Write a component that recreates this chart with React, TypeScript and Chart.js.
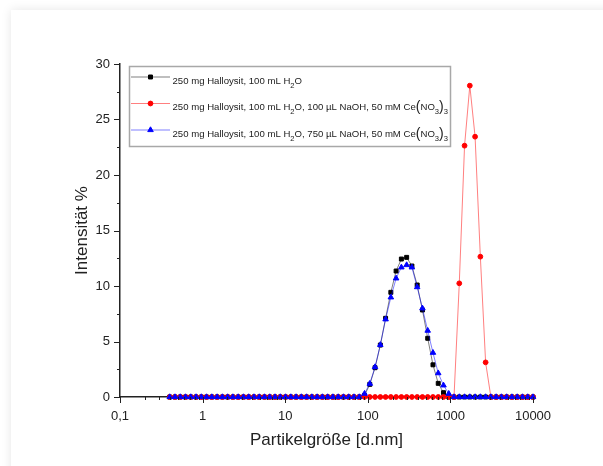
import React, { useEffect, useRef } from 'react';
import { Chart, registerables } from 'chart.js';
import { drawPoint } from 'chart.js/helpers';

Chart.register(...registerables);

// Malvern size classes (d.nm)
const sizeClasses = [
  0.4, 0.4632, 0.5365, 0.6213, 0.7195, 0.8332, 0.9649, 1.117, 1.294, 1.499,
  1.736, 2.01, 2.328, 2.696, 3.122, 3.615, 4.187, 4.849, 5.615, 6.503,
  7.531, 8.721, 10.1, 11.7, 13.54, 15.69, 18.17, 21.04, 24.36, 28.21,
  32.67, 37.84, 43.82, 50.75, 58.77, 68.06, 78.82, 91.28, 105.7, 122.4,
  141.8, 164.2, 190.1, 220.2, 255.0, 295.3, 342.0, 396.1, 458.7, 531.2,
  615.1, 712.4, 825.0, 955.4, 1106, 1281, 1484, 1718, 1990, 2305,
  2669, 3091, 3580, 4145, 4801, 5560, 6439, 7456, 8635, 10000,
];

const intensityH2O = [
  0, 0, 0, 0, 0, 0, 0, 0, 0, 0,
  0, 0, 0, 0, 0, 0, 0, 0, 0, 0,
  0, 0, 0, 0, 0, 0, 0, 0, 0, 0,
  0, 0, 0, 0, 0, 0, 0, 0.15, 1.14, 2.64,
  4.68, 7.09, 9.43, 11.35, 12.43, 12.58, 11.8, 10.09, 7.84, 5.29,
  2.9, 1.23, 0.39, 0, 0, 0, 0, 0, 0, 0,
  0, 0, 0, 0, 0, 0, 0, 0, 0, 0,
];

const intensityNaOH100 = [
  0, 0, 0, 0, 0, 0, 0, 0, 0, 0,
  0, 0, 0, 0, 0, 0, 0, 0, 0, 0,
  0, 0, 0, 0, 0, 0, 0, 0, 0, 0,
  0, 0, 0, 0, 0, 0, 0, 0, 0, 0,
  0, 0, 0, 0, 0, 0, 0, 0, 0, 0,
  0, 0, 0, 0, 0, 10.24, 22.64, 28.05, 23.45, 12.64,
  3.12, 0, 0, 0, 0, 0, 0, 0, 0, 0,
];

const intensityNaOH750 = [
  0, 0, 0, 0, 0, 0, 0, 0, 0, 0,
  0, 0, 0, 0, 0, 0, 0, 0, 0, 0,
  0, 0, 0, 0, 0, 0, 0, 0, 0, 0,
  0, 0, 0, 0, 0, 0, 0, 0.3, 1.2, 2.7,
  4.7, 7.0, 8.98, 10.69, 11.68, 11.89, 11.68, 9.9, 7.99, 5.98,
  3.99, 2.15, 1.05, 0.3, 0, 0, 0, 0, 0, 0,
  0, 0, 0, 0, 0, 0, 0, 0, 0, 0,
];

const xTickValues = [0.1, 1, 10, 100, 1000, 10000];
const xTickLabels = ['0,1', '1', '10', '100', '1000', '10000'];
const yTickValues = [0, 5, 10, 15, 20, 25, 30];

type Seg = { t: string; k?: 'sub' | 'big' };
const legendH2O: Seg[] = [
  { t: '250 mg Halloysit, 100 mL H' }, { t: '2', k: 'sub' }, { t: 'O' },
];
const legendNaOH100: Seg[] = [
  { t: '250 mg Halloysit, 100 mL H' }, { t: '2', k: 'sub' },
  { t: 'O, 100 µL NaOH, 50 mM Ce' }, { t: '(', k: 'big' }, { t: 'NO' },
  { t: '3', k: 'sub' }, { t: ')', k: 'big' }, { t: '3', k: 'sub' },
];
const legendNaOH750: Seg[] = [
  { t: '250 mg Halloysit, 100 mL H' }, { t: '2', k: 'sub' },
  { t: 'O, 750 µL NaOH, 50 mM Ce' }, { t: '(', k: 'big' }, { t: 'NO' },
  { t: '3', k: 'sub' }, { t: ')', k: 'big' }, { t: '3', k: 'sub' },
];

const FONT = '"Liberation Sans", Arial, sans-serif';

function drawRich(ctx: CanvasRenderingContext2D, segs: Seg[], x: number, y: number) {
  ctx.textBaseline = 'alphabetic';
  ctx.textAlign = 'left';
  for (const s of segs) {
    const size = s.k === 'sub' ? 7.6 : s.k === 'big' ? 14 : 9.6;
    const dy = s.k === 'sub' ? 4.3 : s.k === 'big' ? 1 : 0;
    ctx.font = `${size}px ${FONT}`;
    ctx.fillText(s.t, x, y + dy);
    x += ctx.measureText(s.t).width;
  }
}

const extrasPlugin = {
  id: 'extras',
  afterDatasetsDraw(chart: any) {
    const ctx: CanvasRenderingContext2D = chart.ctx;
    const xs = chart.scales.x;
    const ys = chart.scales.y;
    const { left, bottom } = chart.chartArea;
    ctx.save();
    ctx.strokeStyle = '#222';
    ctx.lineWidth = 1;
    // x ticks (log, major + minor)
    for (let d = 0.1; d < 10000; d *= 10) {
      for (let m = 1; m <= 9; m++) {
        const v = d * m;
        const px = Math.round(xs.getPixelForValue(v)) + 0.5;
        const len = m === 1 ? 6 : 3;
        ctx.beginPath();
        ctx.moveTo(px, bottom);
        ctx.lineTo(px, bottom + len);
        ctx.stroke();
      }
    }
    {
      const px = Math.round(xs.getPixelForValue(10000)) + 0.5;
      ctx.beginPath();
      ctx.moveTo(px, bottom);
      ctx.lineTo(px, bottom + 6);
      ctx.stroke();
    }
    // y ticks
    for (let v = 0; v <= 30; v += 2.5) {
      const py = Math.round(ys.getPixelForValue(v)) + 0.5;
      const len = v % 5 === 0 ? 6 : 3;
      ctx.beginPath();
      ctx.moveTo(left, py);
      ctx.lineTo(left - len, py);
      ctx.stroke();
    }
    // legend
    const bx = 129.5, by = 66.5, bw = 321, bh = 80;
    ctx.fillStyle = '#fff';
    ctx.fillRect(bx, by, bw, bh);
    ctx.strokeStyle = '#a8a8a8';
    ctx.lineWidth = 1.5;
    ctx.strokeRect(bx, by, bw, bh);
    const rows = [
      { segs: legendH2O, line: 'rgba(0,0,0,0.5)', col: '#000', style: 'rect', r: 2.8, y: 77 },
      { segs: legendNaOH100, line: 'rgba(255,0,0,0.5)', col: '#f00', style: 'circle', r: 2.4, y: 103.5 },
      { segs: legendNaOH750, line: 'rgba(0,0,255,0.5)', col: '#00f', style: 'triangle', r: 3.2, y: 130 },
    ];
    for (const row of rows) {
      ctx.strokeStyle = row.line;
      ctx.lineWidth = 1;
      ctx.beginPath();
      ctx.moveTo(131, row.y);
      ctx.lineTo(170, row.y);
      ctx.stroke();
      ctx.fillStyle = row.col;
      ctx.strokeStyle = row.col;
      drawPoint(ctx, { pointStyle: row.style, rotation: 0, borderWidth: 1, radius: row.r } as any, 150.5, row.y);
      ctx.fillStyle = '#222';
      drawRich(ctx, row.segs, 172.5, row.y + 6.5);
    }
    ctx.restore();
  },
};

const toPoints = (ys: number[]) => sizeClasses.map((x, i) => ({ x, y: ys[i] }));

export default function App() {
  const canvasRef = useRef<HTMLCanvasElement | null>(null);

  useEffect(() => {
    if (!canvasRef.current) return;
    Chart.defaults.font.family = FONT;
    const chart = new Chart(canvasRef.current, {
      type: 'line',
      data: {
        datasets: [
          {
            label: '250 mg Halloysit, 100 mL H2O, 750 µL NaOH, 50 mM Ce(NO3)3',
            data: toPoints(intensityNaOH750),
            borderColor: 'rgba(0,0,255,0.5)',
            backgroundColor: '#00f',
            pointBorderColor: '#00f',
            pointStyle: 'triangle',
            pointRadius: 3.2,
            pointBorderWidth: 1,
            borderWidth: 1,
            order: 0,
            clip: false,
          },
          {
            label: '250 mg Halloysit, 100 mL H2O, 100 µL NaOH, 50 mM Ce(NO3)3',
            data: toPoints(intensityNaOH100),
            borderColor: 'rgba(255,0,0,0.5)',
            backgroundColor: '#f00',
            pointBorderColor: '#f00',
            pointStyle: 'circle',
            pointRadius: 2.4,
            pointBorderWidth: 1,
            borderWidth: 1,
            order: 1,
            clip: false,
          },
          {
            label: '250 mg Halloysit, 100 mL H2O',
            data: toPoints(intensityH2O),
            borderColor: 'rgba(0,0,0,0.5)',
            backgroundColor: '#000',
            pointBorderColor: '#000',
            pointStyle: 'rect',
            pointRadius: 2.8,
            pointBorderWidth: 1,
            borderWidth: 1,
            order: 2,
            clip: false,
          },
        ] as any,
      },
      options: {
        animation: false,
        responsive: false,
        maintainAspectRatio: false,
        layout: { padding: { left: 0, right: 70, top: 64, bottom: 0 } },
        plugins: { legend: { display: false }, tooltip: { enabled: false } },
        scales: {
          x: {
            type: 'logarithmic',
            min: 0.1,
            max: 10000,
            afterBuildTicks: (scale: any) => {
              scale.ticks = xTickValues.map((v) => ({ value: v, major: true }));
            },
            afterFit: (scale: any) => {
              scale.height = 69;
            },
            ticks: {
              autoSkip: false,
              maxRotation: 0,
              minRotation: 0,
              padding: 6,
              color: '#222',
              font: { size: 13, family: FONT },
              callback: (_v: any, i: number) => xTickLabels[i],
            },
            grid: { display: true, drawOnChartArea: false, drawTicks: true, tickLength: 6, color: 'transparent' },
            border: { display: true, color: '#222', width: 1.5 },
            title: {
              display: true,
              text: 'Partikelgröße [d.nm]',
              color: '#222',
              font: { size: 17, family: FONT },
              padding: { top: 0, bottom: 15 },
            },
          },
          y: {
            type: 'linear',
            min: 0,
            max: 30,
            afterBuildTicks: (scale: any) => {
              scale.ticks = yTickValues.map((v) => ({ value: v }));
            },
            afterFit: (scale: any) => {
              scale.width = 120;
            },
            ticks: {
              padding: 4,
              color: '#222',
              font: { size: 13, family: FONT },
              callback: (v: any) => String(v),
            },
            grid: { display: true, drawOnChartArea: false, drawTicks: true, tickLength: 6, color: 'transparent' },
            border: { display: true, color: '#222', width: 1.5 },
            title: {
              display: true,
              text: 'Intensität %',
              color: '#222',
              font: { size: 17, family: FONT },
              padding: { top: 72, bottom: 0 },
            },
          },
        },
      } as any,
      plugins: [extrasPlugin],
    });
    return () => chart.destroy();
  }, []);

  return (
    <div style={{ position: 'absolute', left: 0, top: 0, width: 603, height: 466, background: '#fff', overflow: 'hidden' }}>
      <div
        style={{
          position: 'absolute', left: 11, top: 10, width: 640, height: 500,
          background: '#fff', boxShadow: '0 0 10px rgba(0,0,0,0.10)',
        }}
      />
      <canvas ref={canvasRef} width={603} height={466} style={{ position: 'absolute', left: 0, top: 0, width: 603, height: 466 }} />
    </div>
  );
}
